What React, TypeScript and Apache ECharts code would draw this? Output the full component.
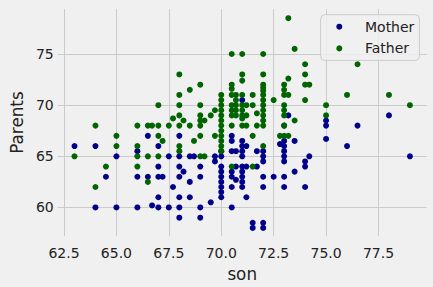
import { useEffect, useRef } from "react";
import * as echarts from "echarts";

const xTicks = [62.5, 65, 67.5, 70, 72.5, 75, 77.5];
const yTicks = [60, 65, 70, 75];
const seriesNames = ["Mother", "Father"];
const seriesColors = ["#00008b", "#006400"];

// [son, mother]
const motherPoints: [number, number][] = [
  [63, 66],
  [64, 66], [64, 60],
  [64.5, 63],
  [65, 65], [65, 60],
  [66, 65.5], [66, 63], [66, 60],
  [66.5, 67], [66.5, 63],
  [66.7, 60.2],
  [67, 66], [67, 64], [67, 63], [67, 61], [67, 60],
  [67.2, 63],
  [67.5, 65], [67.5, 60],
  [67.7, 62],
  [68, 67], [68, 65], [68, 64], [68, 63], [68, 61], [68, 60], [68, 59],
  [68.2, 63.5],
  [68.5, 65], [68.5, 62.5], [68.5, 61],
  [68.7, 65],
  [69, 64], [69, 63], [69, 60], [69, 59],
  [69.5, 60.5],
  [69.7, 65], [69.7, 64.5],
  [70, 65.5], [70, 65], [70, 64], [70, 63.5], [70, 63], [70, 62.5], [70, 62], [70, 61.5], [70, 61],
  [70.5, 67], [70.5, 66.5], [70.5, 65.5], [70.5, 63.5], [70.5, 63], [70.5, 62], [70.5, 60],
  [70.7, 65.5], [70.7, 64], [70.7, 62.7],
  [71, 70.5], [71, 66.5], [71, 66], [71, 65.5], [71, 65], [71, 64], [71, 63.5], [71, 63], [71, 62.5], [71, 62],
  [71.2, 66], [71.2, 64], [71.2, 61],
  [71.5, 58.5], [71.5, 58],
  [71.7, 65.5], [71.7, 64],
  [72, 65.5], [72, 65], [72, 64.5], [72, 63], [72, 62], [72, 58.5], [72, 58],
  [72.5, 63],
  [72.8, 66.2],
  [73, 68], [73, 66.5], [73, 66], [73, 65.5], [73, 65], [73, 64.5], [73, 63], [73, 62],
  [73.2, 69],
  [73.5, 66.5], [73.5, 63.5],
  [74, 64.5], [74, 64], [74, 62], [74.2, 65],
  [75, 68.5], [75, 68], [75, 66.7],
  [76, 66], [76.5, 68],
  [78, 69], [79, 65],
];

// [son, father]
const fatherPoints: [number, number][] = [
  [63, 65],
  [64, 68], [64, 62],
  [64.5, 64],
  [65, 67], [65, 66],
  [66, 68], [66, 66], [66, 65], [66, 64],
  [66.5, 68], [66.5, 65], [66.5, 62.5],
  [66.7, 68],
  [67, 70], [67, 68], [67, 67], [67, 65],
  [67.2, 66.5],
  [67.5, 68],
  [67.7, 68.7],
  [68, 73], [68, 71], [68, 70], [68, 69], [68, 68], [68, 66], [68, 65.5],
  [68.2, 68.5],
  [68.5, 71.5], [68.5, 68],
  [68.7, 66.5],
  [69, 72], [69, 70], [69, 69], [69, 68.5], [69, 68], [69, 67], [69, 65],
  [69.2, 68.5], [69.2, 65],
  [69.5, 69],
  [69.7, 69.5], [69.7, 67],
  [70, 71], [70, 70.5], [70, 70], [70, 69.5], [70, 69], [70, 68.5], [70, 68], [70, 67.5], [70, 67], [70, 66.5], [70, 66], [70, 65.5],
  [70.5, 75], [70.5, 72], [70.5, 71.6], [70.5, 71], [70.5, 70], [70.5, 69.5], [70.5, 69], [70.5, 68], [70.5, 64],
  [70.7, 71], [70.7, 70.5], [70.7, 70], [70.7, 69.5], [70.7, 69],
  [71, 75], [71, 73], [71, 72.4], [71, 71], [71, 70], [71, 69.5], [71, 69], [71, 68.7], [71, 68],
  [71.2, 70], [71.2, 69], [71.2, 68],
  [71.5, 71], [71.5, 70], [71.5, 67], [71.5, 64],
  [71.7, 69.2], [71.7, 68],
  [72, 75], [72, 73], [72, 72], [72, 71.7], [72, 71.4], [72, 71], [72, 70.5], [72, 70], [72, 69.5], [72, 69], [72, 68.5], [72, 68], [72, 66],
  [72.5, 70.5],
  [72.8, 67],
  [73, 72], [73, 71.5], [73, 71], [73, 70], [73, 69.5], [73, 69], [73, 68], [73, 67],
  [73.2, 78.5], [73.2, 72.6], [73.2, 71], [73.2, 67],
  [73.5, 75.5], [73.5, 68.5],
  [74, 74], [74, 73], [74, 72], [74, 70.5], [74.2, 72],
  [75, 70], [75, 69],
  [76, 71], [76.5, 74],
  [78, 71], [79, 70],
];

const FONT = "DejaVu Sans";
const TEXT = "#222";

export default function App() {
  const ref = useRef<HTMLDivElement>(null);
  useEffect(() => {
    const chart = echarts.init(ref.current!, null, { renderer: "svg" });
    chart.setOption({
      animation: false,
      backgroundColor: "#f0f0f0",
      grid: { left: 51.3, right: 6.3, top: 9, bottom: 48.7, containLabel: false },
      legend: {
        data: seriesNames,
        orient: "vertical",
        left: 320.7,
        top: 14.7,
        padding: [4, 5, 4, 15.6],
        itemWidth: 6,
        itemHeight: 6,
        itemGap: 5.7,
        icon: "circle",
        backgroundColor: "rgba(240,240,240,0.8)",
        borderColor: "#cccccc",
        borderWidth: 1,
        borderRadius: 4,
        textStyle: {
          fontSize: 14,
          color: TEXT,
          fontFamily: FONT,
          lineHeight: 16,
          padding: [0, 0, 0, 17.7],
        },
      },
      xAxis: {
        type: "value",
        min: 62.2,
        max: 79.8,
        name: "son",
        nameLocation: "middle",
        nameGap: 18,
        nameTextStyle: { fontSize: 16.8, color: TEXT, fontFamily: FONT },
        axisLine: { show: false },
        axisTick: { show: false, customValues: xTicks },
        axisLabel: {
          customValues: xTicks,
          formatter: (v: number) => v.toFixed(1),
          fontSize: 14,
          color: TEXT,
          fontFamily: FONT,
          margin: 10,
        },
        splitLine: { show: true, lineStyle: { color: "#cbcbcb", width: 1 } },
      },
      yAxis: {
        type: "value",
        min: 57.2,
        max: 79.4,
        name: "Parents",
        nameLocation: "middle",
        nameGap: 25,
        nameTextStyle: { fontSize: 16.8, color: TEXT, fontFamily: FONT },
        axisLine: { show: false },
        axisTick: { show: false, customValues: yTicks },
        axisLabel: {
          customValues: yTicks,
          formatter: (v: number) => String(Math.round(v)),
          fontSize: 14,
          color: TEXT,
          fontFamily: FONT,
          margin: 4,
        },
        splitLine: { show: true, lineStyle: { color: "#cbcbcb", width: 1 } },
      },
      series: [
        {
          name: seriesNames[0],
          type: "scatter",
          data: motherPoints,
          symbol: "circle",
          symbolSize: 6,
          itemStyle: { color: seriesColors[0], opacity: 1 },
        },
        {
          name: seriesNames[1],
          type: "scatter",
          data: fatherPoints,
          symbol: "circle",
          symbolSize: 6,
          itemStyle: { color: seriesColors[1], opacity: 1 },
        },
      ],
    });
    return () => chart.dispose();
  }, []);
  return (
    <div
      ref={ref}
      style={{ position: "fixed", left: 0, top: 0, width: 433, height: 287 }}
    />
  );
}
